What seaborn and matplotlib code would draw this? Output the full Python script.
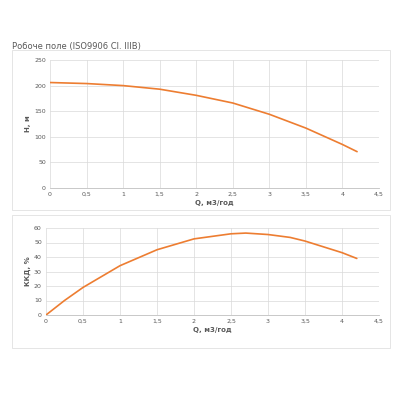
import matplotlib
matplotlib.use("Agg")
import matplotlib.pyplot as plt
import seaborn as sns
from matplotlib.patches import Rectangle

titulo = 'Робоче поле (ISO9906 Cl. IIIB)'

q_h = [0, 0.5, 1, 1.5, 2, 2.5, 3, 3.5, 4, 4.2]
h = [206, 204, 200, 193, 181, 166, 144, 117, 85, 71]

q_eff = [0, 0.25, 0.5, 1, 1.5, 2, 2.5, 2.7, 3, 3.3, 3.5, 4, 4.2]
eff = [0, 10, 19, 34, 45, 52.5, 56, 56.5, 55.5, 53.5, 51, 43, 39]

color = '#ED7D31'
grid = '#d9d9d9'
txt = '#595959'

sns.set_style("white")
plt.rcParams['font.family'] = ['DejaVu Sans']

fig = plt.figure(figsize=(4, 4), dpi=100)

# marcos de los graficos
for (x0, y0, w, hh) in [(12/400, 190/400, 378/400, 160/400), (12/400, 52/400, 378/400, 133/400)]:
    fig.patches.append(Rectangle((x0, y0), w, hh, transform=fig.transFigure,
                                 fill=False, edgecolor='#e0e0e0', lw=0.6))

fig.text(12/400, 1 - 47/400, titulo, fontsize=6, color=txt, va='center')

ax1 = fig.add_axes([0.125, 0.53, 0.8225, 0.32])
ax2 = fig.add_axes([0.115, 0.2125, 0.8325, 0.2175])

def estilo(ax, ymax, ystep, ylabel):
    ax.set_xlim(0, 4.5)
    ax.set_ylim(0, ymax)
    ax.set_xticks([0, 0.5, 1, 1.5, 2, 2.5, 3, 3.5, 4, 4.5])
    ax.set_xticklabels(['0', '0,5', '1', '1,5', '2', '2,5', '3', '3,5', '4', '4,5'])
    ax.set_yticks(range(0, ymax + 1, ystep))
    ax.grid(True, color=grid, lw=0.5)
    for s in ax.spines.values():
        s.set_visible(False)
    ax.spines['bottom'].set_visible(True)
    ax.spines['bottom'].set_color('#bfbfbf')
    ax.spines['bottom'].set_linewidth(0.6)
    ax.tick_params(labelsize=4.5, colors=txt, length=0, pad=3)
    ax.set_xlabel('Q, м3/год', fontsize=5, color=txt, fontweight='bold', labelpad=2)
    ax.set_ylabel(ylabel, fontsize=5, color=txt, fontweight='bold', labelpad=2)

sns.lineplot(x=q_h, y=h, ax=ax1, color=color, lw=1.2)
estilo(ax1, 250, 50, 'H, м')
sns.lineplot(x=q_eff, y=eff, ax=ax2, color=color, lw=1.2)
estilo(ax2, 60, 10, 'ККД, %')

fig.savefig('out.png', dpi=100)
